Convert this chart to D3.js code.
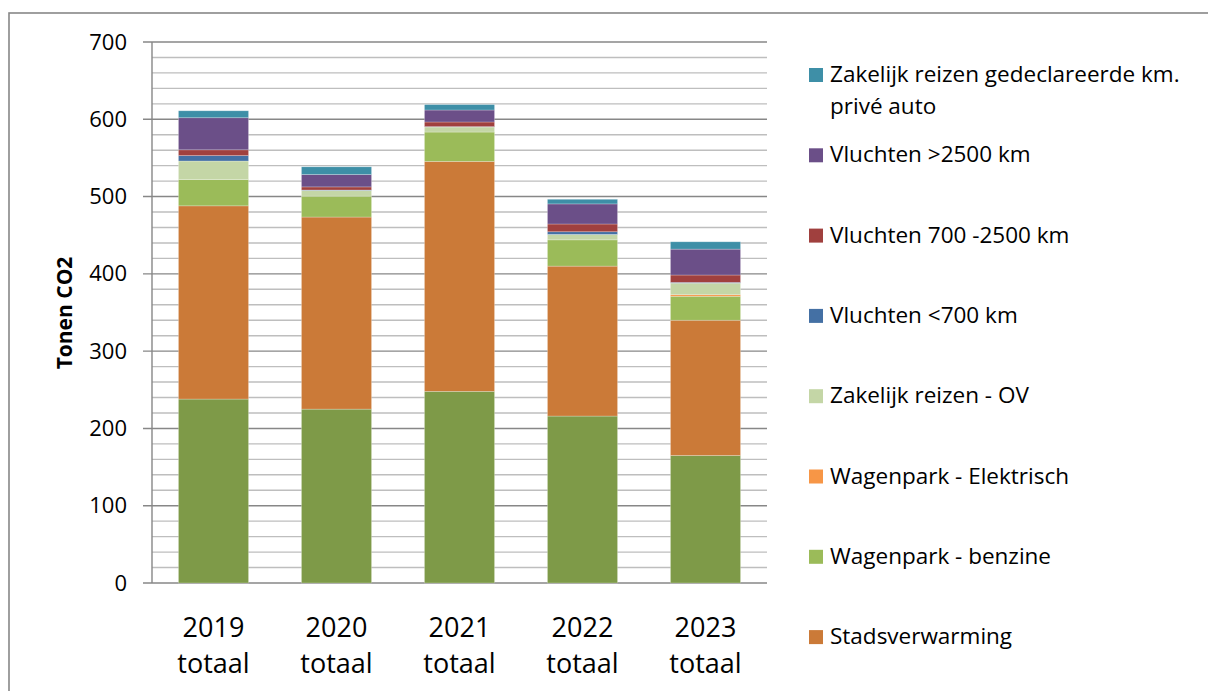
<!DOCTYPE html>
<html>
<head>
<meta charset="utf-8">
<script src="https://cdn.jsdelivr.net/npm/d3@7"></script>
<style>
  body { margin: 0; background: #fff; }
  svg { display: block; font-family: "Open Sans", Lato, sans-serif; }
</style>
</head>
<body>
<svg id="plot" width="1208" height="691"></svg>
<script>
// categorieën (x-as)
const jaren = ["2019 totaal", "2020 totaal", "2021 totaal", "2022 totaal", "2023 totaal"];

// series, van onder naar boven gestapeld (ton CO2)
const elektriciteit = [238, 225, 248, 216, 165];
const stadsverwarming = [250, 248.5, 297.5, 194, 175];
const benzine = [34, 27, 38, 34, 31];
const elektrisch = [0, 0, 0, 0, 2];
const ov = [24, 7.5, 6.5, 7, 15];
const vluchtenKort = [7, 0.5, 0.5, 3.5, 1];
const vluchtenMidden = [7.5, 4, 6, 10, 9.5];
const vluchtenLang = [41.5, 16, 15.5, 26, 33.5];
const priveAuto = [9, 10, 7, 6, 9.5];

const seriesNamen = ["Elektriciteit", "Stadsverwarming", "Wagenpark - benzine", "Wagenpark - Elektrisch",
  "Zakelijk reizen - OV", "Vluchten <700 km", "Vluchten 700 -2500 km", "Vluchten >2500 km",
  "Zakelijk reizen gedeclareerde km. privé auto"];
const seriesWaarden = [elektriciteit, stadsverwarming, benzine, elektrisch, ov, vluchtenKort, vluchtenMidden, vluchtenLang, priveAuto];
const kleuren = ["#7e9a48", "#cb7a38", "#9bbb59", "#f79646", "#c4d6a6", "#4470a4", "#a0403e", "#6b4f88", "#3e8fa7"];

const yTicks = [0, 100, 200, 300, 400, 500, 600, 700];

const plot = d3.select("#plot");

// kader om de grafiek
plot.append("rect")
  .attr("x", 9).attr("y", 13)
  .attr("width", 1300).attr("height", 800)
  .attr("fill", "none")
  .attr("stroke", "#878787")
  .attr("stroke-width", 1.6);

const xScale = d3.scaleBand()
  .domain(jaren)
  .range([152, 767])
  .paddingInner(0.43)
  .paddingOuter(0.215);

const yScale = d3.scaleLinear()
  .domain([0, 700])
  .range([583, 42]);

// hulplijnen (elke 20) en hoofdlijnen (elke 100)
const minor = d3.range(20, 700, 20).filter((v) => v % 100 !== 0);
plot.append("g").selectAll("line").data(minor).enter()
  .append("line")
  .attr("x1", 152).attr("x2", 767)
  .attr("y1", (d) => yScale(d)).attr("y2", (d) => yScale(d))
  .attr("stroke", "#bebebe")
  .attr("stroke-width", 1.4);

plot.append("g").selectAll("line").data(yTicks).enter()
  .append("line")
  .attr("x1", 143).attr("x2", 767)
  .attr("y1", (d) => yScale(d)).attr("y2", (d) => yScale(d))
  .attr("stroke", "#878787")
  .attr("stroke-width", 1.4);

// y-as lijn
plot.append("line")
  .attr("x1", 152).attr("x2", 152)
  .attr("y1", yScale(700)).attr("y2", yScale(0))
  .attr("stroke", "#878787")
  .attr("stroke-width", 1.4);

// gestapelde data
const tabel = jaren.map((j, i) => {
  const rij = {jaar: j};
  seriesNamen.forEach((n, k) => { rij[n] = seriesWaarden[k][i]; });
  return rij;
});
const stack = d3.stack().keys(seriesNamen)(tabel);

plot.append("g").selectAll("g")
  .data(stack).enter()
  .append("g")
  .attr("fill", (d, i) => kleuren[i])
  .selectAll("rect")
  .data((d) => d).enter()
  .append("rect")
  .attr("x", (d) => xScale(d.data.jaar))
  .attr("width", xScale.bandwidth())
  .attr("y", (d) => yScale(d[1]))
  .attr("height", (d) => yScale(d[0]) - yScale(d[1]))
  .attr("stroke", "rgba(255,255,255,0.35)")
  .attr("stroke-width", 0.7);

// y-as labels
const yAxis = plot.append("g")
  .attr("transform", "translate(143,0)")
  .call(d3.axisLeft(yScale).tickValues(yTicks).tickSize(0).tickPadding(16));
yAxis.select(".domain").remove();
yAxis.selectAll("text")
  .attr("font-family", "'Open Sans', sans-serif")
  .attr("font-size", 22)
  .attr("fill", "#000");

// x-as labels (twee regels)
const xLabels = plot.append("g").selectAll("text")
  .data(jaren).enter()
  .append("text")
  .attr("text-anchor", "middle")
  .attr("font-size", 27)
  .attr("fill", "#000");
xLabels.append("tspan")
  .attr("x", (d) => xScale(d) + xScale.bandwidth() / 2)
  .attr("y", 637)
  .text((d) => d.split(" ")[0]);
xLabels.append("tspan")
  .attr("x", (d) => xScale(d) + xScale.bandwidth() / 2)
  .attr("y", 673)
  .text((d) => d.split(" ")[1]);

// y-as titel
plot.append("text")
  .attr("transform", "translate(72,313) rotate(-90)")
  .attr("text-anchor", "middle")
  .attr("font-size", 21)
  .attr("font-weight", "bold")
  .text("Tonen CO2");

// legenda (omgekeerde volgorde, onderste reeks valt buiten beeld)
const legendaItems = seriesNamen.map((n, i) => ({naam: n, kleur: kleuren[i]})).reverse().slice(0, 8);
const legenda = plot.append("g").attr("class", "legenda");
legendaItems.forEach((item, i) => {
  const cy = 75 + i * 80.3;
  legenda.append("rect")
    .attr("x", 809).attr("y", cy - 7)
    .attr("width", 14).attr("height", 14)
    .attr("fill", item.kleur);
  const t = legenda.append("text")
    .attr("x", 830).attr("y", cy + 7)
    .attr("font-size", 22.5)
    .attr("fill", "#000");
  if (item.naam.startsWith("Zakelijk reizen gedeclareerde")) {
    t.append("tspan").attr("x", 830).text("Zakelijk reizen gedeclareerde km.");
    t.append("tspan").attr("x", 830).attr("dy", 32).text("privé auto");
  } else {
    t.text(item.naam);
  }
});
</script>
</body>
</html>
